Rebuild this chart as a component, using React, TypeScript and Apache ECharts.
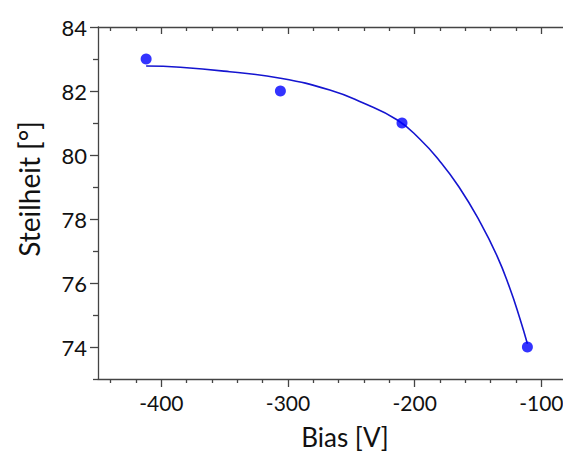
import React, { useEffect, useRef } from "react";
import * as echarts from "echarts";

const pointX = [-412, -306, -210, -111];
const pointY = [83, 82, 81, 74];

const fitX = [-412, -385, -346, -306, -267, -241, -214, -196, -180, -165, -149, -135, -125, -117, -111];
const fitY = [82.78, 82.74, 82.6, 82.4, 82.03, 81.63, 81.1, 80.5, 79.8, 79.0, 77.95, 76.85, 75.85, 74.9, 74.1];

const xMajorTicks = [-400, -300, -200, -100];
const xMinorTicks = [-440, -420, -380, -360, -340, -320, -280, -260, -240, -220, -180, -160, -140, -120, -80];
const yMajorTicks = [74, 76, 78, 80, 82, 84];
const yMinorTicks = [73, 75, 77, 79, 81, 83];

const xTitle = "Bias [V]";
const yTitle = "Steilheit [°]";

const FONT = "Lato";
const AXIS_COLOR = "#444";
const TEXT_COLOR = "#111";

export default function App() {
  const ref = useRef<HTMLDivElement>(null);
  useEffect(() => {
    if (!ref.current) return;
    const chart = echarts.init(ref.current, undefined, { renderer: "svg" });
    const xBase = { type: "value", min: -450, max: -60, splitLine: { show: false } };
    const yBase = { type: "value", min: 73, max: 84, splitLine: { show: false } };
    const tickLine = { color: AXIS_COLOR, width: 1.3 };
    chart.setOption({
      animation: false,
      backgroundColor: "#fff",
      grid: { left: 98, top: 27, bottom: 75, right: 8, containLabel: false, outerBoundsMode: "none" },
      graphic: [
        {
          type: "text",
          x: 29,
          y: 189,
          rotation: Math.PI / 2,
          style: {
            text: yTitle,
            fontFamily: FONT,
            fontSize: 28,
            fill: TEXT_COLOR,
            align: "center",
            verticalAlign: "middle",
          },
        },
      ],
      xAxis: [
        {
          ...xBase,
          position: "bottom",
          name: xTitle,
          nameLocation: "middle",
          nameGap: 45,
          nameTextStyle: { fontFamily: FONT, fontSize: 26, color: TEXT_COLOR },
          axisLine: { show: true, lineStyle: tickLine },
          axisTick: { show: true, inside: false, length: 8, customValues: xMajorTicks, lineStyle: tickLine },
          axisLabel: { show: true, customValues: xMajorTicks, margin: 13, fontFamily: FONT, fontSize: 21, color: TEXT_COLOR },
        },
        {
          ...xBase,
          position: "bottom",
          axisLine: { show: false },
          axisTick: { show: true, inside: false, length: 4, customValues: xMinorTicks, lineStyle: tickLine },
          axisLabel: { show: false },
        },
        {
          ...xBase,
          position: "top",
          axisLine: { show: true, lineStyle: tickLine },
          axisTick: { show: true, inside: true, length: 7, customValues: xMajorTicks, lineStyle: tickLine },
          axisLabel: { show: false },
        },
        {
          ...xBase,
          position: "top",
          axisLine: { show: false },
          axisTick: { show: true, inside: true, length: 4, customValues: xMinorTicks, lineStyle: tickLine },
          axisLabel: { show: false },
        },
      ],
      yAxis: [
        {
          ...yBase,
          position: "left",
          axisLine: { show: true, lineStyle: tickLine },
          axisTick: { show: true, inside: false, length: 8, customValues: yMajorTicks, lineStyle: tickLine },
          axisLabel: { show: true, customValues: yMajorTicks, margin: 11, fontFamily: FONT, fontSize: 22, color: TEXT_COLOR },
        },
        {
          ...yBase,
          position: "left",
          axisLine: { show: false },
          axisTick: { show: true, inside: false, length: 5, customValues: yMinorTicks, lineStyle: tickLine },
          axisLabel: { show: false },
        },
      ],
      series: [
        {
          type: "line",
          xAxisIndex: 0,
          yAxisIndex: 0,
          data: fitX.map((x, i) => [x, fitY[i]]),
          smooth: 0.5,
          showSymbol: false,
          lineStyle: { color: "#1515d0", width: 1.6 },
          z: 2,
        },
        {
          type: "scatter",
          xAxisIndex: 0,
          yAxisIndex: 0,
          data: pointX.map((x, i) => [x, pointY[i]]),
          symbolSize: 11,
          itemStyle: { color: "#0000ff" },
          z: 3,
        },
      ],
    });
    return () => chart.dispose();
  }, []);
  return (
    <div style={{ position: "absolute", left: 0, top: 0, width: 563, height: 454, overflow: "hidden" }}>
      <div ref={ref} style={{ width: 600, height: 454 }} />
    </div>
  );
}
